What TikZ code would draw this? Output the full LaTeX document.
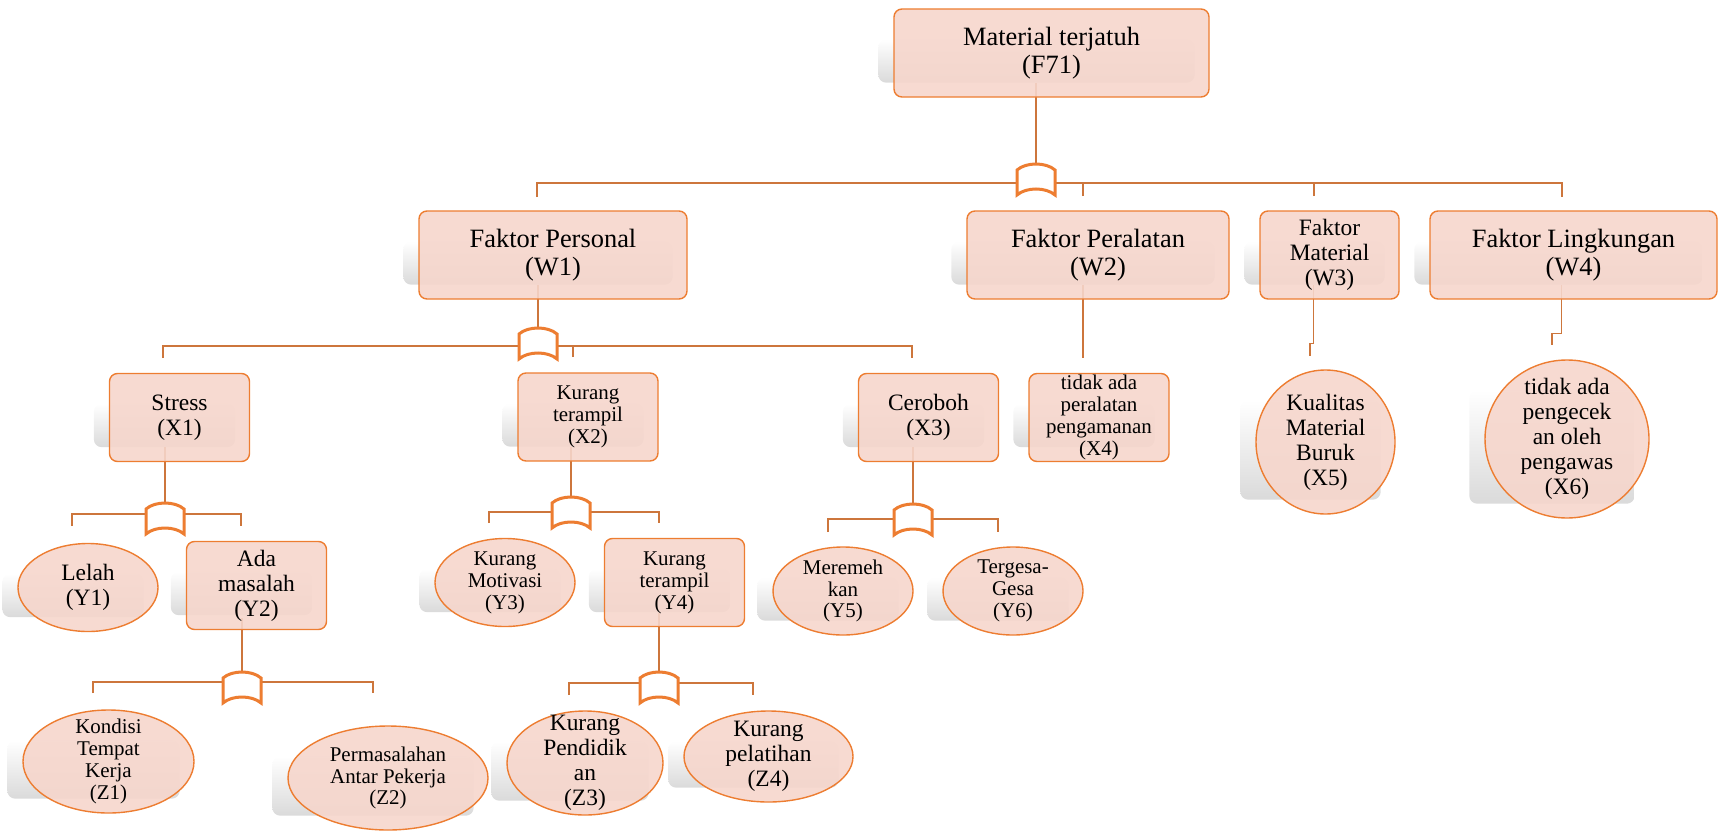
\documentclass[tikz,border=0pt]{standalone}
\usepackage{fontspec}
\setmainfont{Liberation Serif}
\usetikzlibrary{shapes.geometric, calc}

\definecolor{boxfill}{RGB}{246,214,204}
\definecolor{boxline}{RGB}{237,125,49}
\definecolor{linkline}{RGB}{205,118,60}
\definecolor{shadowgray}{RGB}{218,218,218}

\pgfdeclarelayer{background}
\pgfsetlayers{background,main}

\tikzset{
  andgate/.pic={
    \draw[gateline] (-19,31) -- (-19,6) .. controls (-10,-2) and (10,-2) .. (19,6)
      -- (19,31) .. controls (10,23) and (-10,23) .. cycle;
  }
}

\begin{document}
\begin{tikzpicture}[x=0.25mm, y=-0.25mm,
    box/.style={rectangle, rounded corners=2mm, draw=boxline, line width=0.35mm, fill=boxfill, fill opacity=0.9, text opacity=1, inner sep=0pt, minimum width=35mm, minimum height=22mm, align=center},
    oval/.style={ellipse, draw=boxline, line width=0.35mm, fill=boxfill, fill opacity=0.9, text opacity=1, inner sep=-5mm, minimum width=35mm, minimum height=22mm, align=center},
    bigtext/.style={font=\fontsize{18.8}{19.9}\selectfont},
    midtext/.style={font=\fontsize{16.7}{17.8}\selectfont},
    smalltext/.style={font=\fontsize{14.9}{15.6}\selectfont},
    shadowfill/.style={top color=white, bottom color=shadowgray, rounded corners=2mm, draw=none},
    link/.style={draw=linkline, line width=0.3mm},
    gateline/.style={draw=boxline, line width=0.75mm, fill=white}
  ]
    \useasboundingbox (0,0) rectangle (1720,834);

    % top event and the four factors
    \node[box, bigtext, minimum width=78.75mm] (f71) at (1051.5,53) {Material terjatuh\\(F71)};
    \node[box, bigtext, minimum width=67mm] (w1) at (553,255) {Faktor Personal\\(W1)};
    \node[box, bigtext, minimum width=65.5mm] (w2) at (1098,255) {Faktor Peralatan\\(W2)};
    \node[box, midtext, minimum width=34.75mm] (w3) at (1329.5,255) {Faktor\\Material\\(W3)};
    \node[box, bigtext, minimum width=71.75mm] (w4) at (1573.5,255) {Faktor Lingkungan\\(W4)};

    % second level
    \node[box, midtext] (x1) at (179.5,417.5) {Stress\\(X1)};
    \node[box, smalltext] (x2) at (588,417) {Kurang\\terampil\\(X2)};
    \node[box, midtext] (x3) at (928.5,417.5) {Ceroboh\\(X3)};
    \node[box, smalltext] (x4) at (1099,417.5) {tidak ada\\peralatan\\pengamanan\\(X4)};
    \node[oval, midtext, minimum width=34.75mm, minimum height=36mm] (x5) at (1325.5,442) {Kualitas\\Material\\Buruk\\(X5)};
    \node[oval, midtext, minimum width=41mm, minimum height=39.5mm] (x6) at (1567,439) {tidak ada\\pengecek\\an oleh\\pengawas\\(X6)};

    % third level
    \node[oval, midtext] (y1) at (88,587.5) {Lelah\\(Y1)};
    \node[box, midtext] (y2) at (256.5,585.5) {Ada\\masalah\\(Y2)};
    \node[oval, smalltext] (y3) at (505,582.5) {Kurang\\Motivasi\\(Y3)};
    \node[box, smalltext] (y4) at (674.5,582.5) {Kurang\\terampil\\(Y4)};
    \node[oval, smalltext] (y5) at (843,591) {Meremeh\\kan\\(Y5)};
    \node[oval, smalltext] (y6) at (1013,591) {Tergesa-\\Gesa\\(Y6)};

    % basic events
    \node[oval, smalltext, minimum width=42.75mm, minimum height=25.75mm] (z1) at (108.5,761.5) {Kondisi\\Tempat\\Kerja\\(Z1)};
    \node[oval, smalltext, minimum width=50mm, minimum height=26mm] (z2) at (388,778) {Permasalahan\\Antar Pekerja\\(Z2)};
    \node[oval, midtext, minimum width=39mm, minimum height=26mm] (z3) at (585,763) {Kurang\\Pendidik\\an\\(Z3)};
    \node[oval, midtext, minimum width=42.25mm, minimum height=22.75mm] (z4) at (768.5,756.5) {Kurang\\pelatihan\\(Z4)};

    % gate tops and line ends
    \coordinate (g0) at (1036,164);
    \coordinate (g1) at (538,328);
    \coordinate (g2) at (165,503);
    \coordinate (g3) at (242,672);
    \coordinate (g4) at (571,497);
    \coordinate (g5) at (659,672);
    \coordinate (g6) at (913,504);
    \coordinate (w1in) at (537,197);
    \coordinate (w2in) at (1083,196);
    \coordinate (w3in) at (1314,196);
    \coordinate (w4in) at (1562,197);
    \coordinate (x1in) at (163,358);
    \coordinate (x2in) at (573,357);
    \coordinate (x3in) at (912,358);
    \coordinate (x4in) at (1083,358);
    \coordinate (x5in) at (1310,356);
    \coordinate (x6in) at (1552,345);
    \coordinate (y1in) at (72,526);
    \coordinate (y2in) at (241,526);
    \coordinate (y3in) at (489,523);
    \coordinate (y4in) at (659,523);
    \coordinate (y5in) at (828,532);
    \coordinate (y6in) at (998,532);
    \coordinate (z1in) at (93,693);
    \coordinate (z2in) at (373,693);
    \coordinate (z3in) at (569,695);
    \coordinate (z4in) at (753,695);

    \begin{pgfonlayer}{background}
      % soft shadows behind every shape
      \foreach \n in {f71,w1,w2,w3,w4,x1,x2,x3,x4,x5,x6,y1,y2,y3,y4,y5,y6,z1,z2,z3,z4}
        \shade[shadowfill] ($(\n.west |- \n.north)+(-15,31)$) rectangle ($(\n.east |- \n.south)+(-15,-15)$);

      % F71
      \draw[link] ($(f71.south -| g0)+(0,-15)$) -- (g0);
      \draw[link] (w1in) -- ++(0,-14) -| (w4in);
      \draw[link] (w2in) -- ++(0,-13);
      \draw[link] (w3in) -- ++(0,-13);
      % W1
      \draw[link] ($(w1.south -| g1)+(0,-15)$) -- (g1);
      \draw[link] (x1in) -- ++(0,-12) -| (x3in);
      \draw[link] (x2in) -- ++(0,-11);
      % W2, W3, W4
      \draw[link] ($(w2.south -| x4in)+(0,-15)$) -- (x4in);
      \draw[link] ($(w3.south)+(-16,-15)$) -- ++(0,59) -| (x5in);
      \draw[link] ($(w4.south)+(-12,-15)$) -- ++(0,49) -| (x6in);
      % X1, X2, X3
      \draw[link] ($(x1.south -| g2)+(0,-15)$) -- (g2);
      \draw[link] (y1in) -- ++(0,-12) -| (y2in);
      \draw[link] ($(x2.south -| g4)+(0,-15)$) -- (g4);
      \draw[link] (y3in) -- ++(0,-11) -| (y4in);
      \draw[link] ($(x3.south -| g6)+(0,-15)$) -- (g6);
      \draw[link] (y5in) -- ++(0,-13) -| (y6in);
      % Y2, Y4
      \draw[link] ($(y2.south -| g3)+(0,-12)$) -- (g3);
      \draw[link] (z1in) -- ++(0,-11) -| (z2in);
      \draw[link] ($(y4.south -| g5)+(0,-14)$) -- (g5);
      \draw[link] (z3in) -- ++(0,-12) -| (z4in);
    \end{pgfonlayer}

    \foreach \g in {g0,g1,g2,g3,g4,g5,g6}
      \pic at (\g) {andgate};
\end{tikzpicture}
\end{document}
